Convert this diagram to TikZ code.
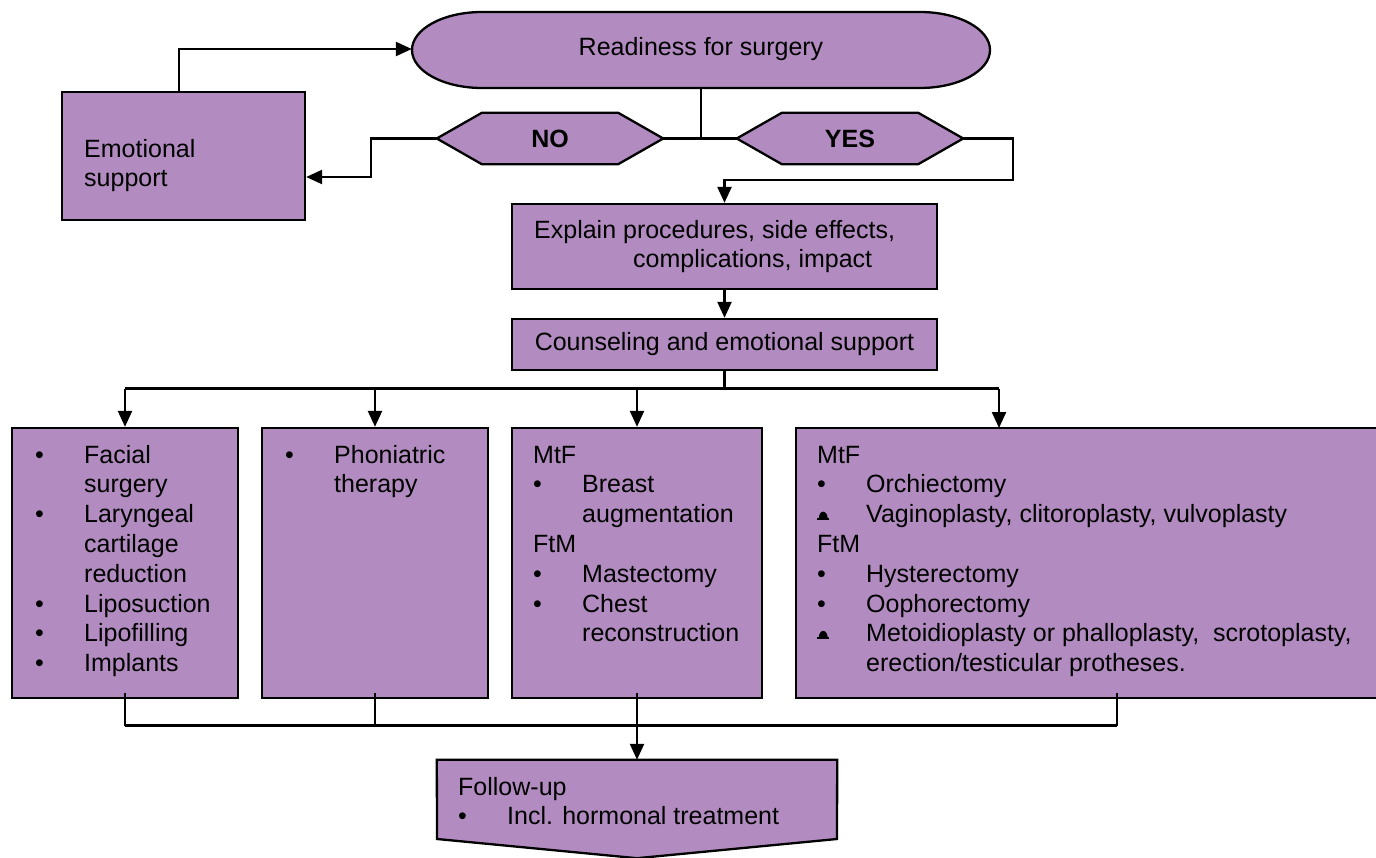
\documentclass[tikz,border=0pt]{standalone}
\usepackage{fontspec}
\setmainfont{Liberation Sans}
\usetikzlibrary{arrows.meta,calc}
\definecolor{mauve}{RGB}{178,140,192}
\newcommand\bul{\makebox[49pt][l]{\textbullet}}
\newcommand\bellbul{\makebox[49pt][l]{\tikz[x=1pt,y=1pt,baseline=0pt]{\fill (0,2.5) rectangle (12,4.5); \fill (1.5,4) arc (180:0:4.5 and 7) -- cycle;}}}
\newcommand\ind{\hspace*{49pt}}

\begin{document}
\begin{tikzpicture}[x=1pt,y=-1pt,
    every node/.style={font=\fontsize{25}{29.8}\selectfont},
    procbox/.style={draw, fill=mauve, line width=2.3pt, inner sep=0pt},
    boxtext/.style={anchor=north west, inner sep=0pt, align=left},
    link/.style={line width=2.3pt},
    flow/.style={link, -{Triangle[length=16pt,width=14pt]}}]
    \useasboundingbox (0,0) rectangle (1376,858);

    % readiness
    \filldraw[procbox] (482,12) -- (920,12) arc (-90:90:70 and 38) -- (482,88) arc (90:270:70 and 38) -- cycle;
    \node[minimum width=578pt, minimum height=76pt, inner sep=0pt] (ready) at (701,49) {Readiness for surgery};

    % no / yes
    \foreach \n/\x in {no/550,yes/850} {
        \node[minimum width=226pt, minimum height=51pt, inner sep=0pt] (\n) at (\x,138.5) {};
        \filldraw[procbox] (\n.west) -- ($(\n.north west)+(45,0)$) -- ($(\n.north east)+(-45,0)$) -- (\n.east)
            -- ($(\n.south east)+(-45,0)$) -- ($(\n.south west)+(45,0)$) -- cycle;
    }
    \node (notxt) at (no) {\bfseries NO};
    \node (yestxt) at (yes) {\bfseries YES};

    % emotional support
    \node[procbox, minimum width=243pt, minimum height=128pt] (emo) at (183.5,156) {};
    \node[boxtext] (emotxt) at (84,136) {\strut Emotional\\support};

    % explain and counseling
    \node[procbox, minimum width=425pt, minimum height=85pt] (explain) at (724.5,246.5) {};
    \node[boxtext] (explaintxt) at (534,217) {\strut Explain procedures, side effects,\\\hspace*{99pt}complications, impact};
    \node[procbox, minimum width=425pt, minimum height=51pt] (counsel) at (724.5,344.5) {Counseling and emotional support};

    % treatment boxes
    \node[procbox, minimum width=226pt, minimum height=270pt] (b1) at (125,563) {};
    \node[procbox, minimum width=226pt, minimum height=270pt] (b2) at (375,563) {};
    \node[procbox, minimum width=250pt, minimum height=270pt] (b3) at (637,563) {};
    \node[procbox, minimum width=642pt, minimum height=270pt] (b4) at (1117,563) {};
    \coordinate (b4in) at (999,428);

    \node[boxtext] (b1txt) at (35,442) {\strut\bul Facial\\\ind surgery\\\bul Laryngeal\\\ind cartilage\\\ind reduction\\\bul Liposuction\\\bul Lipofilling\\\bul Implants};
    \node[boxtext] (b2txt) at (285,442) {\strut\bul Phoniatric\\\ind therapy};
    \node[boxtext] (b3txt) at (533,442) {\strut MtF\\\bul Breast\\\ind augmentation\\FtM\\\bul Mastectomy\\\bul Chest\\\ind reconstruction};
    \node[boxtext] (b4txt) at (817,442) {\strut MtF\\\bul Orchiectomy\\\bellbul Vaginoplasty, clitoroplasty, vulvoplasty\\FtM\\\bul Hysterectomy\\\bul Oophorectomy\\\bellbul Metoidioplasty or phalloplasty,\ \ scrotoplasty,\\\ind erection/testicular protheses.};

    % follow-up
    \node[minimum width=400pt, minimum height=98pt, inner sep=0pt] (follow) at (637,809) {};
    \filldraw[procbox] (follow.north west) -- (follow.north east) -- (837,839) -- (follow.south) -- (437,839) -- cycle;
    \node[boxtext] (followtxt) at (458,774) {\strut Follow-up\\\bul Incl. hormonal treatment};

    % connectors
    \draw[link] (ready.south) -- (ready.south |- no.east);
    \draw[link] (no.east) -- (yes.west);
    \draw[flow] (no.west) -- ++(-66,0) |- ($(emo.east)+(0,21)$);
    \draw[flow] ($(emo.north)+(-4.5,0)$) |- (ready.west);
    \draw[flow] (yes.east) -- ++(50,0) -- ++(0,41.5) -| (explain.north);
    \draw[flow] (explain.south) -- (counsel.north);
    \draw[link] (counsel.south) -- ++(0,17.5) coordinate (fork);
    \draw[link] (fork -| b1.north) -- (fork -| b4in);
    \foreach \b in {b1,b2,b3}
        \draw[flow] (fork -| \b.north) -- (\b.north);
    \draw[flow] (fork -| b4in) -- (b4in);
    \coordinate (join) at (0,725.5);
    \foreach \b in {b1,b2,b4}
        \draw[link] ($(\b.south)+(0,-6)$) -- (\b.south |- join);
    \draw[link] (join -| b1.south) -- (join -| b4.south);
    \draw[flow] ($(b3.south)+(0,-6)$) -- (follow.north);
\end{tikzpicture}
\end{document}
